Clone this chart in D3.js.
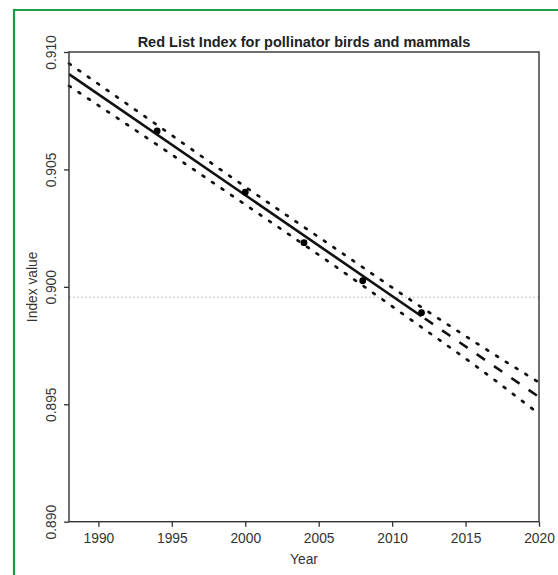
<!DOCTYPE html>
<html><head><meta charset="utf-8">
<script src="https://cdn.jsdelivr.net/npm/d3@7"></script>
<style>body{margin:0;background:#fff}svg{display:block}text{font-family:"Liberation Sans",Arial,sans-serif}</style>
</head><body>
<script>
// ---- data ----
const title = "Red List Index for pollinator birds and mammals";
const xTicks = [1990, 1995, 2000, 2005, 2010, 2015, 2020];
const yTicks = [0.890, 0.895, 0.900, 0.905, 0.910];
const obsYears = [1994, 2000, 2004, 2008, 2012];
const obsValues = [0.90664, 0.90403, 0.90188, 0.90026, 0.8989];
const fitYears = [1988, 2012];
const fitValues = [0.90906, 0.89875];
const projYears = [2012, 2020];
const projValues = [0.89875, 0.89531];
const ciYears = [1988, 1994, 2000, 2006, 2012, 2016, 2020];
const ciUpper = [0.90951, 0.90689, 0.90426, 0.90169, 0.89913, 0.89750, 0.89593];
const ciLower = [0.90856, 0.90605, 0.90350, 0.90093, 0.89828, 0.89649, 0.89459];
const refValue = 0.89956;

const W = 558, H = 575;
const svg = d3.select("body").append("svg").attr("width", W).attr("height", H);

// green frame
svg.append("path").attr("d", `M14,${H+5} L14,10 L${W+5},10`)
  .attr("fill","none").attr("stroke","#1f9a48").attr("stroke-width",2.2);

const L = 69, R = 539, T = 52, B = 521.7;
const x = d3.scaleLinear().domain([1988, 2020]).range([L, R]);
const y = d3.scaleLinear().domain([0.890, 0.910]).range([B, T]);

// reference line
svg.append("line").attr("x1", L).attr("x2", R).attr("y1", y(refValue)).attr("y2", y(refValue))
  .attr("stroke","#c4c4c4").attr("stroke-width",1).attr("stroke-dasharray","2 2");

const line = d3.line().x((d,i)=>x(d[0])).y(d=>y(d[1]));
const ci = d3.line().x(d=>x(d[0])).y(d=>y(d[1])).curve(d3.curveMonotoneX);

svg.append("path").datum(ciYears.map((yr,i)=>[yr, ciUpper[i]])).attr("d", ci)
  .attr("fill","none").attr("stroke","#111").attr("stroke-width",2.7)
  .attr("stroke-linecap","round").attr("stroke-dasharray","2 9.5");
svg.append("path").datum(ciYears.map((yr,i)=>[yr, ciLower[i]])).attr("d", ci)
  .attr("fill","none").attr("stroke","#111").attr("stroke-width",2.7)
  .attr("stroke-linecap","round").attr("stroke-dasharray","2 9.5");

svg.append("path").datum(fitYears.map((yr,i)=>[yr, fitValues[i]])).attr("d", line)
  .attr("fill","none").attr("stroke","#111").attr("stroke-width",2.6);
svg.append("path").datum(projYears.map((yr,i)=>[yr, projValues[i]])).attr("d", line)
  .attr("fill","none").attr("stroke","#111").attr("stroke-width",2.6).attr("stroke-dasharray","0 4 10 7");

svg.selectAll("circle.pt").data(obsYears).enter().append("circle")
  .attr("cx", d=>x(d)).attr("cy", (d,i)=>y(obsValues[i])).attr("r", 3.4).attr("fill","#000");

// box
svg.append("rect").attr("x", L).attr("y", T).attr("width", R-L).attr("height", B-T)
  .attr("fill","none").attr("stroke","#333").attr("stroke-width",1.4);

// x axis
const gx = svg.append("g").attr("transform", `translate(0,${B})`)
  .call(d3.axisBottom(x).tickValues(xTicks).tickFormat(d3.format("d")).tickSize(5).tickSizeOuter(0));
gx.select(".domain").remove();
gx.selectAll("line").attr("stroke","#333").attr("stroke-width",1.3);
gx.selectAll("text").attr("fill","#333").attr("font-size","13.8px").attr("dy",null).attr("y",21);

// y axis
const gy = svg.append("g").attr("transform", `translate(${L},0)`)
  .call(d3.axisLeft(y).tickValues(yTicks).tickFormat(d3.format(".3f")).tickSize(5).tickSizeOuter(0));
gy.select(".domain").remove();
gy.selectAll("line").attr("stroke","#333").attr("stroke-width",1.3);
gy.selectAll("text").attr("fill","#333").attr("font-size","13.8px")
  .attr("x",null).attr("dy",null).attr("text-anchor","middle")
  .attr("transform","translate(-13,0) rotate(-90)").attr("y",0);

// titles
svg.append("text").attr("x",(L+R)/2).attr("y",46.5).attr("text-anchor","middle")
  .attr("font-weight","bold").attr("font-size","14.5px").attr("fill","#222").text(title);
svg.append("text").attr("x",(L+R)/2).attr("y",564).attr("text-anchor","middle")
  .attr("font-size","13.8px").attr("fill","#333").text("Year");
svg.append("text").attr("transform",`translate(36.5,${(T+B)/2}) rotate(-90)`).attr("text-anchor","middle")
  .attr("font-size","13.8px").attr("fill","#333").text("Index value");
</script>
</body></html>
